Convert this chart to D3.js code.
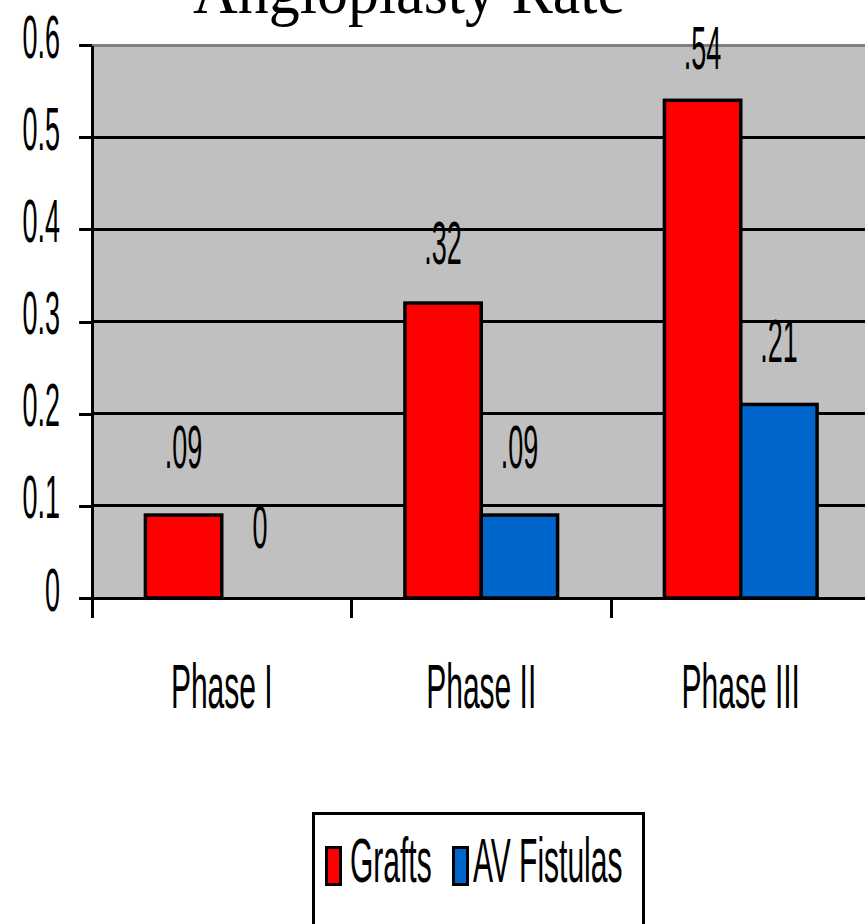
<!DOCTYPE html>
<html>
<head>
<meta charset="utf-8">
<script src="https://cdn.jsdelivr.net/npm/d3@7"></script>
<style>
  html, body { margin: 0; padding: 0; background: #ffffff; }
  svg { display: block; }
</style>
</head>
<body>
<script>
// Angioplasty rate by phase, grafts vs AV fistulas
const phases = ["Phase I", "Phase II", "Phase III"];
const seriesNames = ["Grafts", "AV Fistulas"];
const grafts = [0.09, 0.32, 0.54];
const fistulas = [0, 0.09, 0.21];
const seriesColors = ["#ff0000", "#0066cc"];
const yTicks = [0, 0.1, 0.2, 0.3, 0.4, 0.5, 0.6];
const yTickLabels = ["0", "0.1", "0.2", "0.3", "0.4", "0.5", "0.6"];
const titleText = "Angioplasty Rate";

const W = 865, H = 924;
const plot = { left: 92, top: 45, bottom: 598, right: 870.5 };

const svg = d3.select("body").append("svg")
  .attr("width", W).attr("height", H)
  .attr("viewBox", `0 0 ${W} ${H}`);

svg.append("rect").attr("width", W).attr("height", H).attr("fill", "#ffffff");

const y = d3.scaleLinear().domain([0, 0.6]).range([plot.bottom, plot.top]);
const x0 = d3.scaleBand().domain(phases).range([plot.left, plot.right]);
const x1 = d3.scaleBand().domain(seriesNames).range([0, x0.bandwidth()])
  .paddingInner(0).paddingOuter(0.7);
// value labels sit a little above the bar tops
const yLabel = y.copy().range([y(0) - 50, y(0.6) - 29]);

const sansFont = "'Liberation Sans', Arial, sans-serif";
const numScale = "scale(1.35,3.1)";
const wordScale = "scale(1.5,3.1)";

// plot background
svg.append("rect")
  .attr("x", plot.left).attr("y", plot.top)
  .attr("width", plot.right - plot.left).attr("height", plot.bottom - plot.top)
  .attr("fill", "#c0c0c0");

// top border of the plot area
svg.append("line")
  .attr("x1", plot.left).attr("x2", plot.right)
  .attr("y1", y(0.6)).attr("y2", y(0.6))
  .attr("stroke", "#808080").attr("stroke-width", 3)
  .attr("shape-rendering", "crispEdges");

// gridlines
svg.append("g").selectAll("line")
  .data(yTicks.filter(t => t > 0 && t < 0.6))
  .join("line")
  .attr("x1", plot.left).attr("x2", plot.right)
  .attr("y1", d => y(d)).attr("y2", d => y(d))
  .attr("stroke", "#000").attr("stroke-width", 3)
  .attr("shape-rendering", "crispEdges");

// y axis
const yAxis = svg.append("g")
  .attr("transform", `translate(${plot.left},0)`)
  .call(d3.axisLeft(y).tickValues(yTicks).tickSize(13)
    .tickFormat((d, i) => yTickLabels[i]).tickSizeOuter(0));
yAxis.select(".domain").attr("stroke", "#000").attr("stroke-width", 3)
  .attr("shape-rendering", "crispEdges");
yAxis.selectAll(".tick line").attr("stroke", "#000").attr("stroke-width", 3)
  .attr("shape-rendering", "crispEdges");
yAxis.selectAll(".tick text")
  .attr("x", null).attr("dy", null)
  .attr("transform", `translate(-32,12) ${numScale}`)
  .attr("text-anchor", "end")
  .attr("fill", "#000")
  .style("font-family", sansFont).style("font-size", "20px");

// bars
const groups = svg.append("g").selectAll("g")
  .data(phases).join("g")
  .attr("transform", d => `translate(${x0(d)},0)`);

groups.selectAll("rect")
  .data((d, i) => [
    { series: seriesNames[0], value: grafts[i], color: seriesColors[0] },
    { series: seriesNames[1], value: fistulas[i], color: seriesColors[1] }
  ])
  .join("rect")
  .filter(d => d.value > 0)
  .attr("x", d => x1(d.series))
  .attr("y", d => y(d.value))
  .attr("width", x1.bandwidth())
  .attr("height", d => y(0) - y(d.value))
  .attr("fill", d => d.color)
  .attr("stroke", "#000").attr("stroke-width", 3.5);

// value labels
const fmt = v => v === 0 ? "0" : d3.format(".2f")(v).replace(/^0/, "");
groups.selectAll("text")
  .data((d, i) => [
    { series: seriesNames[0], value: grafts[i] },
    { series: seriesNames[1], value: fistulas[i] }
  ])
  .join("text")
  .attr("transform", d => `translate(${x1(d.series) + x1.bandwidth() / 2},${yLabel(d.value)}) ${numScale}`)
  .attr("text-anchor", "middle")
  .attr("fill", "#000")
  .style("font-family", sansFont).style("font-size", "20px")
  .text(d => fmt(d.value));

// x axis baseline and category separators
svg.append("line")
  .attr("x1", plot.left - 13).attr("x2", plot.right)
  .attr("y1", y(0)).attr("y2", y(0))
  .attr("stroke", "#000").attr("stroke-width", 3)
  .attr("shape-rendering", "crispEdges");
svg.append("g").selectAll("line")
  .data(phases.concat(["end"]))
  .join("line")
  .attr("x1", d => d === "end" ? x0.range()[1] : x0(d))
  .attr("x2", d => d === "end" ? x0.range()[1] : x0(d))
  .attr("y1", y(0)).attr("y2", y(0) + 20)
  .attr("stroke", "#000").attr("stroke-width", 3)
  .attr("shape-rendering", "crispEdges");

// category labels
svg.append("g").selectAll("text")
  .data(phases).join("text")
  .attr("transform", d => `translate(${x0(d) + x0.bandwidth() / 2},708) ${wordScale}`)
  .attr("text-anchor", "middle")
  .attr("fill", "#000")
  .style("font-family", sansFont).style("font-size", "20px")
  .text(d => d);

// title
svg.append("text")
  .attr("transform", "translate(409,13) scale(1,1.1)")
  .attr("text-anchor", "middle")
  .attr("fill", "#000")
  .style("font-family", "'Liberation Serif', 'Times New Roman', serif")
  .style("font-size", "62px")
  .text(titleText);

// legend
const legend = svg.append("g");
legend.append("rect")
  .attr("x", 313.5).attr("y", 813.5).attr("width", 330).attr("height", 200)
  .attr("fill", "#fff").attr("stroke", "#000").attr("stroke-width", 3);
const legendItems = [
  { name: seriesNames[0], color: seriesColors[0], sx: 326.5, tx: 350 },
  { name: seriesNames[1], color: seriesColors[1], sx: 453.5, tx: 473 }
];
legend.selectAll("rect.swatch")
  .data(legendItems).join("rect")
  .attr("class", "swatch")
  .attr("x", d => d.sx).attr("y", 847.5)
  .attr("width", 14).attr("height", 37)
  .attr("fill", d => d.color)
  .attr("stroke", "#000").attr("stroke-width", 3);
legend.selectAll("text")
  .data(legendItems).join("text")
  .attr("transform", d => `translate(${d.tx},882) ${wordScale}`)
  .attr("fill", "#000")
  .style("font-family", sansFont).style("font-size", "20px")
  .text(d => d.name);
</script>
</body>
</html>
